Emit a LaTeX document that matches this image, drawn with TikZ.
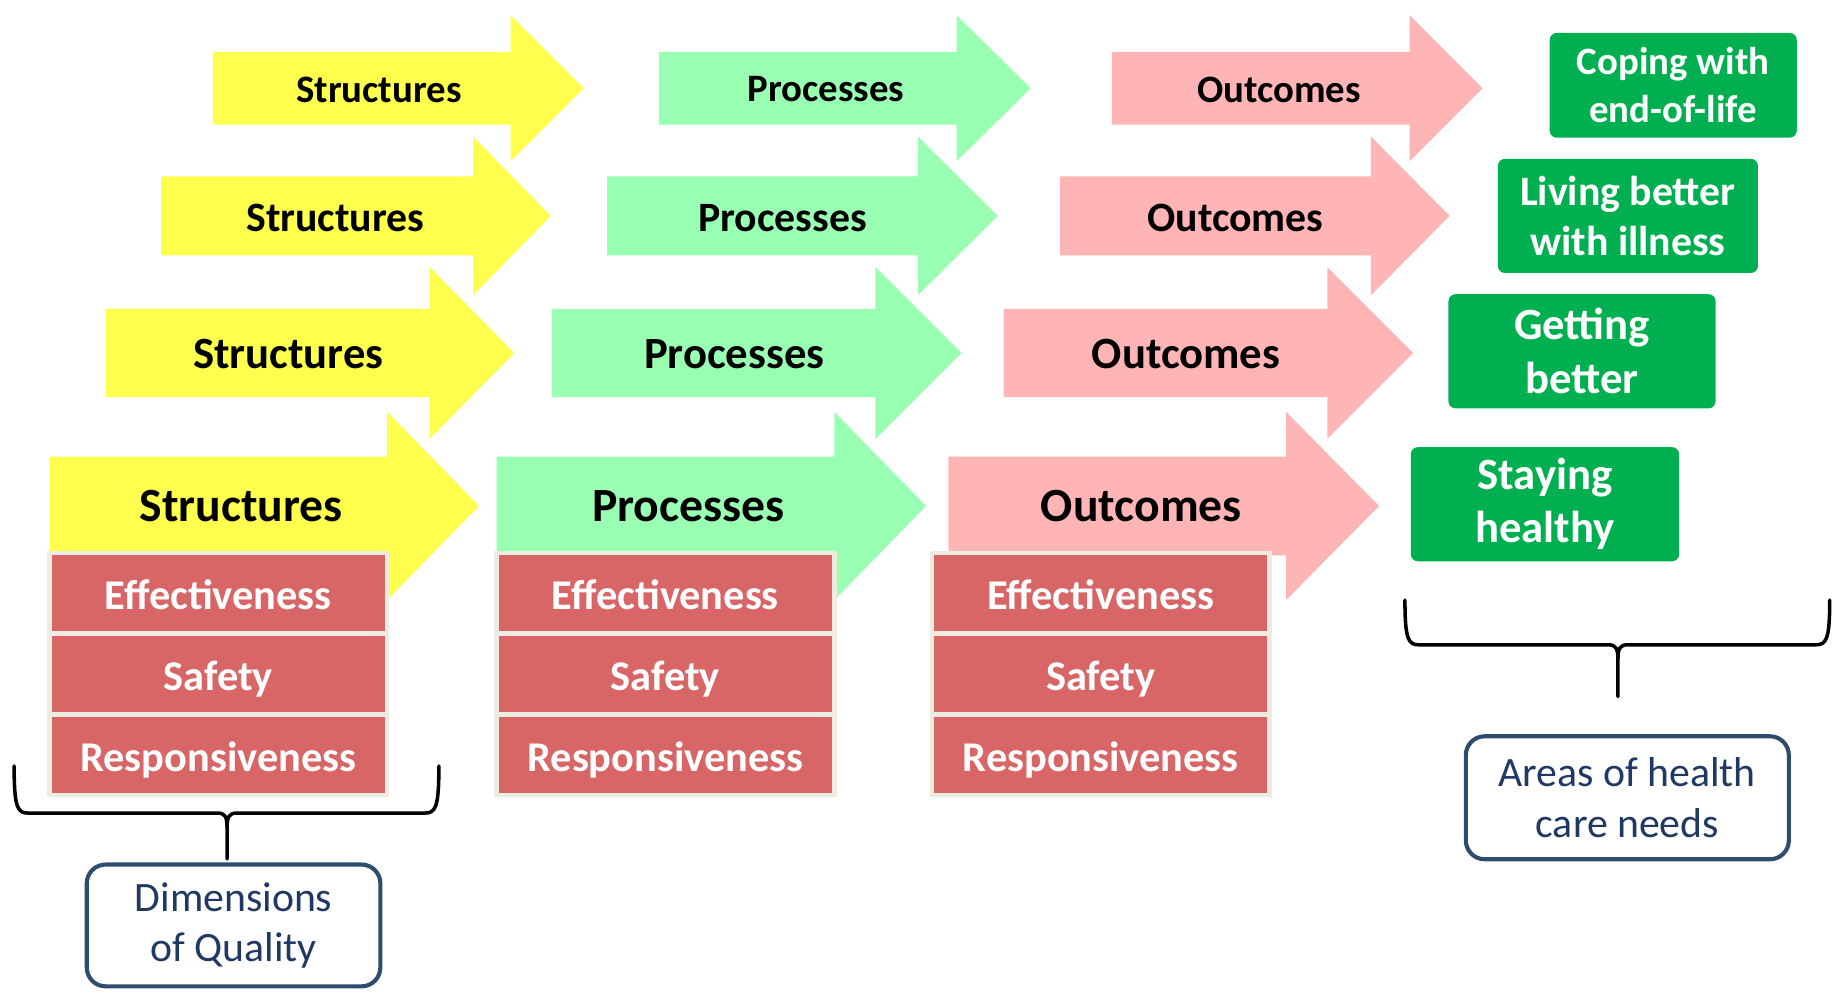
\documentclass[tikz,border=0pt]{standalone}
\usepackage{fontspec}
\setmainfont{Carlito}
\definecolor{arrY}{HTML}{FFFF4D}
\definecolor{arrG}{HTML}{99FFB3}
\definecolor{arrP}{HTML}{FFB5B5}
\definecolor{areaG}{HTML}{00B050}
\definecolor{cellR}{HTML}{D96666}
\definecolor{cellB}{HTML}{EEECE1}
\definecolor{noteB}{HTML}{2F4B6E}
\definecolor{noteT}{HTML}{1F3864}

% block arrow: colour, left x, shaft end x, tip x, centre y, half body, half head
\newcommand{\flowarrow}[7]{%
  \fill[#1] (#2,{#5-#6}) -- (#3,{#5-#6}) -- (#3,{#5-#7}) -- (#4,#5)
    -- (#3,{#5+#7}) -- (#3,{#5+#6}) -- (#2,{#5+#6}) -- cycle;}

% curly brace opening downwards: left x, right x, top y, bar y, middle x, tip y
\newcommand{\qbrace}[6]{%
  \draw[brace] (#1,#3) .. controls (#1,{#4-4}) and ({#1+3},#4) .. ({#1+12},#4)
    -- ({#5-8},#4) .. controls ({#5-2},#4) and (#5,{#4+3}) .. (#5,{#4+12}) -- (#5,#6);
  \draw[brace] (#2,#3) .. controls (#2,{#4-4}) and ({#2-3},#4) .. ({#2-12},#4)
    -- ({#5+8},#4) .. controls ({#5+2},#4) and (#5,{#4+3}) .. (#5,{#4+12});}

\tikzset{
  lbl/.style={text=black, inner sep=0pt},
  cell/.style={fill=cellR, text=white, font=\bfseries\fontsize{36}{43}\selectfont,
    minimum width=283pt, minimum height=64.3pt, inner sep=0pt, text height=32pt, text depth=5pt},
  area/.style={fill=areaG, text=white, rounded corners=6pt, align=center, inner sep=0pt},
  note/.style={draw=noteB, line width=3.5pt, rounded corners=16pt, text=noteT, align=center,
    inner sep=0pt, font=\fontsize{35.5}{43}\selectfont},
  brace/.style={line width=3pt, black, line cap=round, line join=round}
}

\begin{document}
\begin{tikzpicture}[x=1pt,y=-1pt]
\useasboundingbox (0,0) rectangle (1568,845);

% row 1
\flowarrow{arrY}{181}{434}{496}{75}{31}{62}
\flowarrow{arrG}{560}{813}{876}{75}{31}{62}
\flowarrow{arrP}{945}{1198}{1260}{75}{31}{62}
\node[lbl, font=\bfseries\fontsize{33}{40}\selectfont] (s1) at (322,76) {Structures};
\node[lbl, font=\bfseries\fontsize{33}{40}\selectfont] (p1) at (702,76) {Processes};
\node[lbl, font=\bfseries\fontsize{33}{40}\selectfont] (o1) at (1087,76) {Outcomes};

% row 2
\flowarrow{arrY}{137}{402}{468}{183.5}{33.5}{67.5}
\flowarrow{arrG}{516}{780}{848}{183.5}{33.5}{67.5}
\flowarrow{arrP}{901}{1165}{1232}{183.5}{33.5}{67.5}
\node[lbl, font=\bfseries\fontsize{35.5}{43}\selectfont] (s2) at (285,185) {Structures};
\node[lbl, font=\bfseries\fontsize{35.5}{43}\selectfont] (p2) at (665,185) {Processes};
\node[lbl, font=\bfseries\fontsize{35.5}{43}\selectfont] (o2) at (1050,185) {Outcomes};

% row 3
\flowarrow{arrY}{90}{365}{437}{300}{37.5}{73}
\flowarrow{arrG}{469}{744}{817}{300}{37.5}{73}
\flowarrow{arrP}{853}{1128}{1201}{300}{37.5}{73}
\node[lbl, font=\bfseries\fontsize{38}{46}\selectfont] (s3) at (245,301) {Structures};
\node[lbl, font=\bfseries\fontsize{38}{46}\selectfont] (p3) at (624,301) {Processes};
\node[lbl, font=\bfseries\fontsize{38}{46}\selectfont] (o3) at (1008,301) {Outcomes};

% row 4
\flowarrow{arrY}{42}{329}{407}{430}{42}{80}
\flowarrow{arrG}{422}{709}{787}{430}{42}{80}
\flowarrow{arrP}{806}{1093}{1172}{430}{42}{80}
\node[lbl, font=\bfseries\fontsize{40.5}{48}\selectfont] (s4) at (205,430) {Structures};
\node[lbl, font=\bfseries\fontsize{40.5}{48}\selectfont] (p4) at (585,430) {Processes};
\node[lbl, font=\bfseries\fontsize{40.5}{48}\selectfont] (o4) at (970,430) {Outcomes};

% quality dimension tables
\foreach \tx/\tn in {40/s, 420/p, 790/o} {
  \fill[cellB] (\tx,468) rectangle ({\tx+291},677);
  \node[cell] (\tn-eff) at ({\tx+145.5},504.15) {Effectiveness};
  \node[cell] (\tn-saf) at ({\tx+145.5},572.95) {Safety};
  \node[cell] (\tn-res) at ({\tx+145.5},641.75) {Responsiveness};
}

% areas of health care needs
\node[area, minimum width=210pt, minimum height=89pt, font=\bfseries\fontsize{33}{41}\selectfont]
  (a1) at (1422,72.5) {Coping with\\end-of-life};
\node[area, minimum width=221pt, minimum height=97pt, font=\bfseries\fontsize{35.5}{43}\selectfont]
  (a2) at (1383.5,183.5) {Living better\\with illness};
\node[area, minimum width=227pt, minimum height=97pt, font=\bfseries\fontsize{38}{46}\selectfont]
  (a3) at (1344.5,298.5) {Getting\\better};
\node[area, minimum width=228pt, minimum height=97pt, font=\bfseries\fontsize{38}{45}\selectfont]
  (a4) at (1313,428.5) {Staying\\healthy};

% notes
\node[note, minimum width=249.5pt, minimum height=103.5pt] (dq) at (198.5,786.5) {Dimensions\\of Quality};
\node[note, minimum width=274.5pt, minimum height=104.5pt] (ah) at (1383,678) {Areas of health\\care needs};

% braces
\qbrace{12}{373}{651}{691}{193}{730}
\qbrace{1194}{1555}{510}{548}{1375}{592}
\end{tikzpicture}
\end{document}
